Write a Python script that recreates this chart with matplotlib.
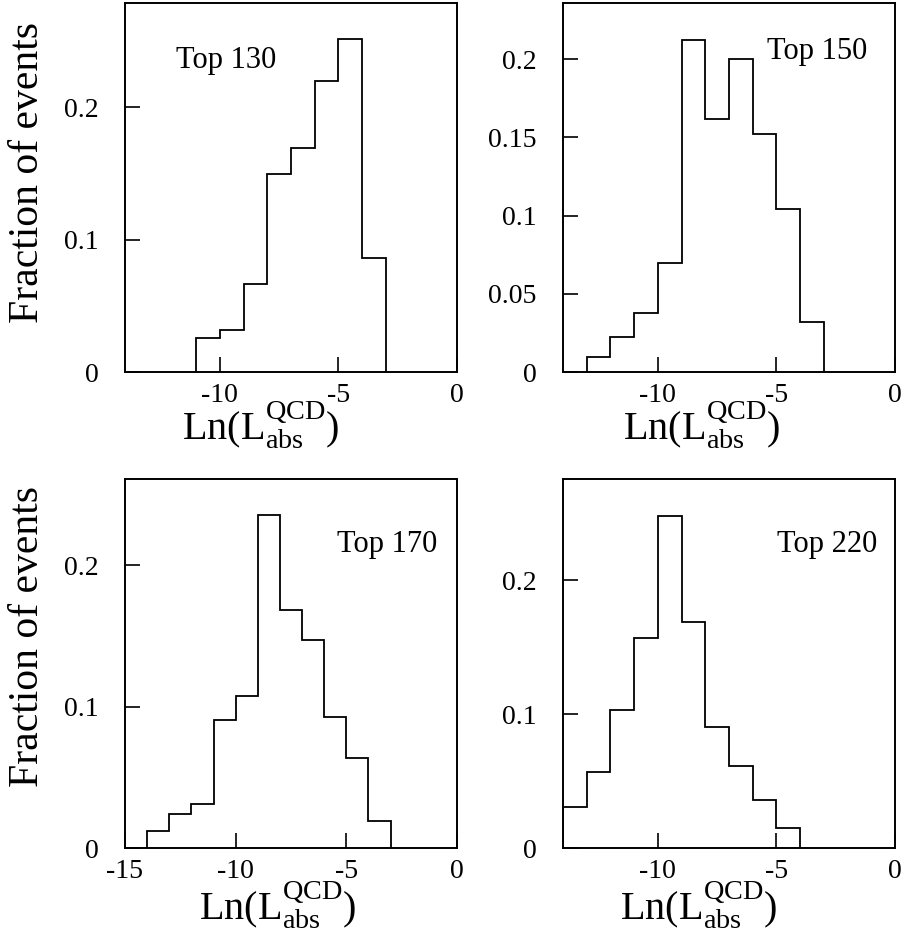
import numpy as np
import matplotlib.pyplot as plt

plt.rcParams['font.family'] = ['Liberation Serif', 'DejaVu Serif']
plt.rcParams['mathtext.fontset'] = 'custom'
plt.rcParams['mathtext.rm'] = 'Liberation Serif'
plt.rcParams['mathtext.it'] = 'Liberation Serif:italic'

# fraction of events per unit bin of Ln(L_abs^QCD), first bin starts at *_lo
top130_lo = -11
top130 = [0.0255, 0.0317, 0.0668, 0.150, 0.169, 0.220, 0.252, 0.0864]
top150_lo = -13
top150 = [0.0094, 0.0221, 0.0377, 0.0696, 0.2126, 0.162, 0.1999, 0.1522, 0.1045, 0.0317]
top170_lo = -14
top170 = [0.0123, 0.0241, 0.0311, 0.0906, 0.1073, 0.2352, 0.1684, 0.1472, 0.0925, 0.0637, 0.0193]
top220_lo = -14
top220 = [0.0303, 0.0571, 0.103, 0.157, 0.248, 0.169, 0.0906, 0.0613, 0.036, 0.0149]

labels = ['Top 130', 'Top 150', 'Top 170', 'Top 220']
yticks_a = [0, 0.1, 0.2]
yticks_b = [0, 0.05, 0.1, 0.15, 0.2]

fig = plt.figure(figsize=(9.05, 9.39), dpi=100)

panels = [
    # rect, label, lo, vals, xmin, ymax, yticks, xticks, text pos, xlabel pos
    ([0.1381, 0.6038, 0.3669, 0.3930], labels[0], top130_lo, top130, -14, 0.279,
     yticks_a, [-10, -5, 0], (0.154, 0.824), (0.407, -0.184)),
    ([0.6221, 0.6038, 0.3669, 0.3930], labels[1], top150_lo, top150, -14, 0.236,
     yticks_b, [-10, -5, 0], (0.614, 0.848), (0.416, -0.184)),
    ([0.1381, 0.0969, 0.3669, 0.3930], labels[2], top170_lo, top170, -15, 0.261,
     yticks_a, [-15, -10, -5, 0], (0.639, 0.802), (0.46, -0.195)),
    ([0.6221, 0.0969, 0.3669, 0.3930], labels[3], top220_lo, top220, -14, 0.2755,
     yticks_a, [-10, -5, 0], (0.645, 0.802), (0.407, -0.195)),
]

for rect, lab, lo, vals, xmin, ymax, yt, xt, tpos, xlpos in panels:
    ax = fig.add_axes(rect)
    edges = np.arange(lo, lo + len(vals) + 1)
    ax.stairs(vals, edges, color='black', linewidth=1.3, fill=False)
    ax.set_xlim(xmin, 0)
    ax.set_ylim(0, ymax)
    ax.set_xticks(xt)
    ax.set_xticklabels([str(v) for v in xt])
    ax.set_yticks(yt)
    ax.set_yticklabels(['0' if v == 0 else ('%g' % v) for v in yt])
    ax.tick_params(direction='in', length=11, width=1.2, top=False, right=False,
                   labelsize=20)
    ax.tick_params(axis='y', pad=19)
    ax.tick_params(axis='x', pad=8)
    for s in ax.spines.values():
        s.set_linewidth(1.4)
    ax.text(tpos[0], tpos[1], lab, transform=ax.transAxes, fontsize=22,
            ha='left', va='baseline')
    ax.text(xlpos[0], xlpos[1], r'Ln(L$_{\mathrm{abs}}^{\mathrm{QCD}}$)',
            transform=ax.transAxes, fontsize=29, ha='center', va='baseline')

fig.text(0.031, 0.816, 'Fraction of events', rotation=90, fontsize=30,
         ha='center', va='center')
fig.text(0.031, 0.322, 'Fraction of events', rotation=90, fontsize=30,
         ha='center', va='center')

fig.savefig('out.png', dpi=100)
